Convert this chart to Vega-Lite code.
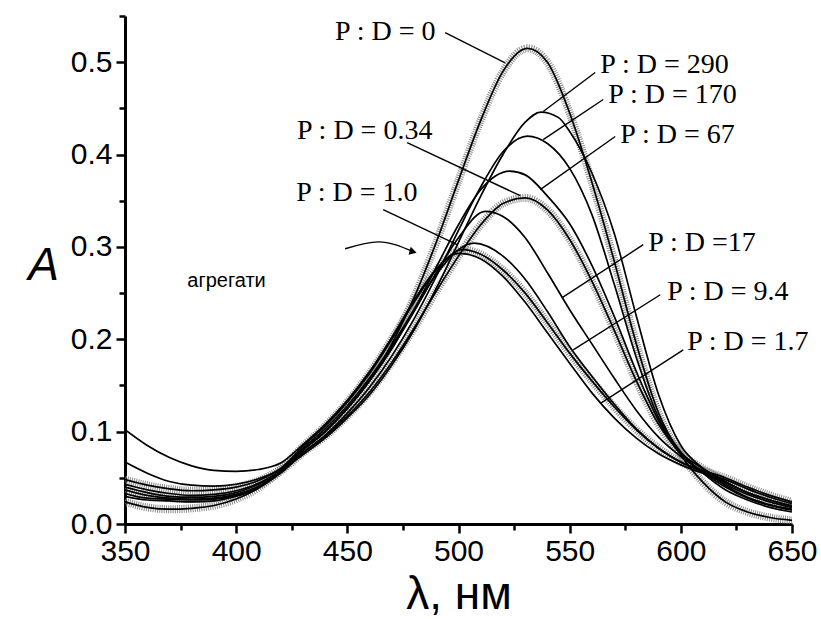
{
  "$schema": "https://vega.github.io/schema/vega-lite/v6.json",
  "width": 667,
  "height": 508,
  "autosize": {"type": "none"},
  "padding": {"left": 125, "top": 16, "right": 29, "bottom": 95},
  "background": "white",
  "config": {"view": {"stroke": null}},
  "datasets": {
    "spectra": [
      {"s":"0","x":350,"y":0.024},{"s":"0","x":360,"y":0.018},{"s":"0","x":370,"y":0.016},{"s":"0","x":380,"y":0.017},{"s":"0","x":390,"y":0.020},{"s":"0","x":400,"y":0.027},{"s":"0","x":410,"y":0.039},{"s":"0","x":420,"y":0.058},{"s":"0","x":430,"y":0.080},{"s":"0","x":440,"y":0.100},{"s":"0","x":450,"y":0.125},{"s":"0","x":460,"y":0.155},{"s":"0","x":470,"y":0.195},{"s":"0","x":480,"y":0.245},{"s":"0","x":490,"y":0.305},{"s":"0","x":500,"y":0.372},{"s":"0","x":510,"y":0.437},{"s":"0","x":520,"y":0.490},{"s":"0","x":531,"y":0.515},{"s":"0","x":540,"y":0.500},{"s":"0","x":550,"y":0.445},{"s":"0","x":560,"y":0.370},{"s":"0","x":570,"y":0.285},{"s":"0","x":580,"y":0.195},{"s":"0","x":590,"y":0.120},{"s":"0","x":600,"y":0.075},{"s":"0","x":610,"y":0.045},{"s":"0","x":620,"y":0.024},{"s":"0","x":630,"y":0.013},{"s":"0","x":640,"y":0.007},{"s":"0","x":650,"y":0.004},
      {"s":"290","x":350,"y":0.040},{"s":"290","x":360,"y":0.034},{"s":"290","x":370,"y":0.030},{"s":"290","x":380,"y":0.029},{"s":"290","x":390,"y":0.030},{"s":"290","x":400,"y":0.034},{"s":"290","x":410,"y":0.043},{"s":"290","x":420,"y":0.057},{"s":"290","x":430,"y":0.075},{"s":"290","x":440,"y":0.093},{"s":"290","x":450,"y":0.115},{"s":"290","x":460,"y":0.140},{"s":"290","x":470,"y":0.172},{"s":"290","x":480,"y":0.210},{"s":"290","x":490,"y":0.255},{"s":"290","x":500,"y":0.305},{"s":"290","x":510,"y":0.355},{"s":"290","x":520,"y":0.400},{"s":"290","x":530,"y":0.435},{"s":"290","x":537,"y":0.446},{"s":"290","x":545,"y":0.440},{"s":"290","x":550,"y":0.425},{"s":"290","x":560,"y":0.380},{"s":"290","x":570,"y":0.315},{"s":"290","x":580,"y":0.225},{"s":"290","x":590,"y":0.140},{"s":"290","x":600,"y":0.085},{"s":"290","x":610,"y":0.060},{"s":"290","x":620,"y":0.042},{"s":"290","x":630,"y":0.029},{"s":"290","x":640,"y":0.021},{"s":"290","x":650,"y":0.016},
      {"s":"170","x":350,"y":0.033},{"s":"170","x":360,"y":0.028},{"s":"170","x":370,"y":0.027},{"s":"170","x":380,"y":0.026},{"s":"170","x":390,"y":0.027},{"s":"170","x":400,"y":0.031},{"s":"170","x":410,"y":0.040},{"s":"170","x":420,"y":0.055},{"s":"170","x":430,"y":0.077},{"s":"170","x":440,"y":0.096},{"s":"170","x":450,"y":0.120},{"s":"170","x":460,"y":0.148},{"s":"170","x":470,"y":0.182},{"s":"170","x":480,"y":0.222},{"s":"170","x":490,"y":0.268},{"s":"170","x":500,"y":0.318},{"s":"170","x":510,"y":0.365},{"s":"170","x":520,"y":0.403},{"s":"170","x":531,"y":0.420},{"s":"170","x":540,"y":0.412},{"s":"170","x":550,"y":0.385},{"s":"170","x":560,"y":0.335},{"s":"170","x":570,"y":0.260},{"s":"170","x":580,"y":0.180},{"s":"170","x":590,"y":0.115},{"s":"170","x":600,"y":0.078},{"s":"170","x":610,"y":0.055},{"s":"170","x":620,"y":0.037},{"s":"170","x":630,"y":0.026},{"s":"170","x":640,"y":0.018},{"s":"170","x":650,"y":0.013},
      {"s":"67","x":350,"y":0.030},{"s":"67","x":360,"y":0.026},{"s":"67","x":370,"y":0.025},{"s":"67","x":380,"y":0.024},{"s":"67","x":390,"y":0.025},{"s":"67","x":400,"y":0.030},{"s":"67","x":410,"y":0.039},{"s":"67","x":420,"y":0.056},{"s":"67","x":430,"y":0.080},{"s":"67","x":440,"y":0.100},{"s":"67","x":450,"y":0.125},{"s":"67","x":460,"y":0.155},{"s":"67","x":470,"y":0.190},{"s":"67","x":480,"y":0.232},{"s":"67","x":490,"y":0.278},{"s":"67","x":500,"y":0.324},{"s":"67","x":510,"y":0.362},{"s":"67","x":523,"y":0.382},{"s":"67","x":530,"y":0.378},{"s":"67","x":540,"y":0.355},{"s":"67","x":550,"y":0.325},{"s":"67","x":560,"y":0.280},{"s":"67","x":570,"y":0.225},{"s":"67","x":580,"y":0.165},{"s":"67","x":590,"y":0.112},{"s":"67","x":600,"y":0.075},{"s":"67","x":610,"y":0.056},{"s":"67","x":620,"y":0.040},{"s":"67","x":630,"y":0.028},{"s":"67","x":640,"y":0.020},{"s":"67","x":650,"y":0.015},
      {"s":"0.34","x":350,"y":0.037},{"s":"0.34","x":360,"y":0.031},{"s":"0.34","x":370,"y":0.028},{"s":"0.34","x":380,"y":0.027},{"s":"0.34","x":390,"y":0.028},{"s":"0.34","x":400,"y":0.032},{"s":"0.34","x":410,"y":0.041},{"s":"0.34","x":420,"y":0.057},{"s":"0.34","x":430,"y":0.077},{"s":"0.34","x":440,"y":0.095},{"s":"0.34","x":450,"y":0.117},{"s":"0.34","x":460,"y":0.143},{"s":"0.34","x":470,"y":0.175},{"s":"0.34","x":480,"y":0.212},{"s":"0.34","x":490,"y":0.252},{"s":"0.34","x":500,"y":0.290},{"s":"0.34","x":510,"y":0.324},{"s":"0.34","x":520,"y":0.347},{"s":"0.34","x":530,"y":0.353},{"s":"0.34","x":540,"y":0.340},{"s":"0.34","x":550,"y":0.308},{"s":"0.34","x":560,"y":0.263},{"s":"0.34","x":570,"y":0.210},{"s":"0.34","x":580,"y":0.155},{"s":"0.34","x":590,"y":0.108},{"s":"0.34","x":600,"y":0.077},{"s":"0.34","x":610,"y":0.060},{"s":"0.34","x":620,"y":0.046},{"s":"0.34","x":630,"y":0.034},{"s":"0.34","x":640,"y":0.026},{"s":"0.34","x":650,"y":0.020},
      {"s":"17","x":350,"y":0.043},{"s":"17","x":360,"y":0.037},{"s":"17","x":370,"y":0.033},{"s":"17","x":380,"y":0.031},{"s":"17","x":390,"y":0.032},{"s":"17","x":400,"y":0.036},{"s":"17","x":410,"y":0.044},{"s":"17","x":420,"y":0.058},{"s":"17","x":430,"y":0.080},{"s":"17","x":440,"y":0.100},{"s":"17","x":450,"y":0.125},{"s":"17","x":460,"y":0.155},{"s":"17","x":470,"y":0.190},{"s":"17","x":480,"y":0.230},{"s":"17","x":490,"y":0.272},{"s":"17","x":500,"y":0.310},{"s":"17","x":512,"y":0.3385},{"s":"17","x":520,"y":0.333},{"s":"17","x":530,"y":0.310},{"s":"17","x":540,"y":0.272},{"s":"17","x":550,"y":0.232},{"s":"17","x":560,"y":0.195},{"s":"17","x":570,"y":0.158},{"s":"17","x":580,"y":0.123},{"s":"17","x":590,"y":0.094},{"s":"17","x":600,"y":0.073},{"s":"17","x":610,"y":0.057},{"s":"17","x":620,"y":0.043},{"s":"17","x":630,"y":0.032},{"s":"17","x":640,"y":0.024},{"s":"17","x":650,"y":0.018},
      {"s":"9.4","x":350,"y":0.067},{"s":"9.4","x":360,"y":0.055},{"s":"9.4","x":370,"y":0.046},{"s":"9.4","x":380,"y":0.042},{"s":"9.4","x":390,"y":0.041},{"s":"9.4","x":400,"y":0.043},{"s":"9.4","x":410,"y":0.049},{"s":"9.4","x":420,"y":0.060},{"s":"9.4","x":430,"y":0.082},{"s":"9.4","x":440,"y":0.103},{"s":"9.4","x":450,"y":0.128},{"s":"9.4","x":460,"y":0.158},{"s":"9.4","x":470,"y":0.193},{"s":"9.4","x":480,"y":0.232},{"s":"9.4","x":490,"y":0.270},{"s":"9.4","x":500,"y":0.297},{"s":"9.4","x":507,"y":0.304},{"s":"9.4","x":520,"y":0.290},{"s":"9.4","x":530,"y":0.265},{"s":"9.4","x":540,"y":0.230},{"s":"9.4","x":550,"y":0.192},{"s":"9.4","x":560,"y":0.160},{"s":"9.4","x":570,"y":0.130},{"s":"9.4","x":580,"y":0.103},{"s":"9.4","x":590,"y":0.082},{"s":"9.4","x":600,"y":0.067},{"s":"9.4","x":610,"y":0.056},{"s":"9.4","x":620,"y":0.045},{"s":"9.4","x":630,"y":0.034},{"s":"9.4","x":640,"y":0.026},{"s":"9.4","x":650,"y":0.019},
      {"s":"1.0","x":350,"y":0.048},{"s":"1.0","x":360,"y":0.042},{"s":"1.0","x":370,"y":0.038},{"s":"1.0","x":380,"y":0.036},{"s":"1.0","x":390,"y":0.037},{"s":"1.0","x":400,"y":0.040},{"s":"1.0","x":410,"y":0.047},{"s":"1.0","x":420,"y":0.060},{"s":"1.0","x":430,"y":0.084},{"s":"1.0","x":440,"y":0.106},{"s":"1.0","x":450,"y":0.132},{"s":"1.0","x":460,"y":0.163},{"s":"1.0","x":470,"y":0.200},{"s":"1.0","x":480,"y":0.240},{"s":"1.0","x":490,"y":0.275},{"s":"1.0","x":502,"y":0.297},{"s":"1.0","x":510,"y":0.292},{"s":"1.0","x":520,"y":0.275},{"s":"1.0","x":530,"y":0.250},{"s":"1.0","x":540,"y":0.218},{"s":"1.0","x":550,"y":0.185},{"s":"1.0","x":560,"y":0.155},{"s":"1.0","x":570,"y":0.127},{"s":"1.0","x":580,"y":0.102},{"s":"1.0","x":590,"y":0.082},{"s":"1.0","x":600,"y":0.067},{"s":"1.0","x":610,"y":0.058},{"s":"1.0","x":620,"y":0.050},{"s":"1.0","x":630,"y":0.040},{"s":"1.0","x":640,"y":0.031},{"s":"1.0","x":650,"y":0.024},
      {"s":"1.7","x":350,"y":0.102},{"s":"1.7","x":360,"y":0.085},{"s":"1.7","x":370,"y":0.072},{"s":"1.7","x":380,"y":0.063},{"s":"1.7","x":390,"y":0.058},{"s":"1.7","x":400,"y":0.057},{"s":"1.7","x":410,"y":0.059},{"s":"1.7","x":420,"y":0.066},{"s":"1.7","x":430,"y":0.086},{"s":"1.7","x":440,"y":0.108},{"s":"1.7","x":450,"y":0.134},{"s":"1.7","x":460,"y":0.165},{"s":"1.7","x":470,"y":0.202},{"s":"1.7","x":480,"y":0.242},{"s":"1.7","x":490,"y":0.276},{"s":"1.7","x":500,"y":0.293},{"s":"1.7","x":510,"y":0.287},{"s":"1.7","x":520,"y":0.268},{"s":"1.7","x":530,"y":0.240},{"s":"1.7","x":540,"y":0.207},{"s":"1.7","x":550,"y":0.174},{"s":"1.7","x":560,"y":0.142},{"s":"1.7","x":570,"y":0.115},{"s":"1.7","x":580,"y":0.093},{"s":"1.7","x":590,"y":0.076},{"s":"1.7","x":600,"y":0.064},{"s":"1.7","x":610,"y":0.055},{"s":"1.7","x":620,"y":0.048},{"s":"1.7","x":630,"y":0.038},{"s":"1.7","x":640,"y":0.029},{"s":"1.7","x":650,"y":0.022}
    ],
    "labels": [
      {"t":"P : D = 0","x":444.5,"y":0.533},
      {"t":"P : D = 290","x":563.8,"y":0.497},
      {"t":"P : D = 170","x":567.4,"y":0.464},
      {"t":"P : D = 67","x":572.8,"y":0.4216},
      {"t":"P : D = 0.34","x":427.4,"y":0.426},
      {"t":"P : D = 1.0","x":427,"y":0.3588},
      {"t":"P : D =17","x":585.4,"y":0.3046},
      {"t":"P : D = 9.4","x":593.9,"y":0.2515},
      {"t":"P : D = 1.7","x":602.9,"y":0.197}
    ],
    "leaders": [
      {"x":494,"y":0.532,"x2":521,"y2":0.4993},
      {"x":561.5,"y":0.4888,"x2":538.1,"y2":0.4466},
      {"x":565.1,"y":0.4596,"x2":538.1,"y2":0.4162},
      {"x":570.5,"y":0.4195,"x2":536.75,"y2":0.362},
      {"x":476.9,"y":0.413,"x2":527.75,"y2":0.3555},
      {"x":466.1,"y":0.3403,"x2":499.4,"y2":0.3024},
      {"x":583.1,"y":0.3024,"x2":546.65,"y2":0.245},
      {"x":590.75,"y":0.2482,"x2":551.6,"y2":0.1886},
      {"x":601.1,"y":0.1886,"x2":564.2,"y2":0.1312}
    ],
    "arrow": [
      {"o":1,"x":449,"y":0.298},
      {"o":2,"x":464,"y":0.3055},
      {"o":3,"x":479.6,"y":0.2948}
    ],
    "arrowhead": [{"x":479.6,"y":0.2948}],
    "note": [{"t":"агрегати","x":378,"y":0.2634}]
  },
  "layer": [
    {
      "data": {"name": "spectra"},
      "transform": [{"filter": "datum.s === '0' || datum.s === '0.34' || datum.s === '1.0'"}],
      "mark": {"type": "line", "interpolate": "monotone", "color": "#8a8a8a", "strokeWidth": 8, "strokeDash": [1, 1.2], "clip": true},
      "encoding": {
        "x": {"field": "x", "type": "quantitative", "scale": {"domain": [350, 650], "nice": false, "zero": false},
          "axis": {"values": [350,375,400,425,450,475,500,525,550,575,600,625,650],
            "labelExpr": "datum.value % 50 === 0 ? datum.label : ''",
            "title": "λ, нм", "titleFont": "Liberation Sans", "titleFontSize": 46, "titleFontWeight": "normal", "titlePadding": 6,
            "labelFont": "Liberation Sans", "labelFontSize": 30, "labelColor": "black", "labelPadding": 3,
            "domainColor": "black", "domainWidth": 3, "tickColor": "black", "tickWidth": 2.5,
            "tickSize": {"condition": {"test": "datum.value % 50 !== 0", "value": 6}, "value": 9},
            "grid": false, "labelFlush": false, "labelOverlap": false}},
        "y": {"field": "y", "type": "quantitative", "scale": {"domain": [0, 0.55], "nice": false},
          "axis": {"values": [0,0.05,0.1,0.15,0.2,0.25,0.3,0.35,0.4,0.45,0.5,0.55],
            "labelExpr": "round(datum.value*100) % 10 === 0 ? format(datum.value, '.1f') : ''",
            "title": "A", "titleFont": "Liberation Sans", "titleFontSize": 46, "titleFontStyle": "italic", "titleFontWeight": "normal",
            "titleAngle": 0, "titleX": -82, "titleY": 249, "titleAlign": "center", "titleBaseline": "middle",
            "labelFont": "Liberation Sans", "labelFontSize": 30, "labelColor": "black", "labelPadding": 4,
            "domainColor": "black", "domainWidth": 3, "tickColor": "black", "tickWidth": 2.5,
            "tickSize": {"condition": {"test": "round(datum.value*100) % 10 !== 0", "value": 6}, "value": 9},
            "grid": false, "labelFlush": false, "labelOverlap": false}},
        "detail": {"field": "s"}
      }
    },
    {
      "data": {"name": "spectra"},
      "mark": {"type": "line", "interpolate": "monotone", "color": "black", "strokeWidth": 1.7, "clip": true},
      "encoding": {
        "x": {"field": "x", "type": "quantitative"},
        "y": {"field": "y", "type": "quantitative"},
        "detail": {"field": "s"}
      }
    },
    {
      "data": {"name": "leaders"},
      "mark": {"type": "rule", "color": "black", "strokeWidth": 1.4},
      "encoding": {
        "x": {"field": "x", "type": "quantitative"},
        "y": {"field": "y", "type": "quantitative"},
        "x2": {"field": "x2"},
        "y2": {"field": "y2"}
      }
    },
    {
      "data": {"name": "labels"},
      "mark": {"type": "text", "font": "Liberation Serif", "fontSize": 28, "align": "left", "baseline": "middle", "color": "black"},
      "encoding": {
        "x": {"field": "x", "type": "quantitative"},
        "y": {"field": "y", "type": "quantitative"},
        "text": {"field": "t"}
      }
    },
    {
      "data": {"name": "arrow"},
      "mark": {"type": "line", "interpolate": "monotone", "color": "black", "strokeWidth": 1.4},
      "encoding": {
        "x": {"field": "x", "type": "quantitative"},
        "y": {"field": "y", "type": "quantitative"},
        "order": {"field": "o"}
      }
    },
    {
      "data": {"name": "arrowhead"},
      "mark": {"type": "point", "shape": "triangle-right", "filled": true, "color": "black", "size": 70, "angle": 15, "opacity": 1},
      "encoding": {
        "x": {"field": "x", "type": "quantitative"},
        "y": {"field": "y", "type": "quantitative"}
      }
    },
    {
      "data": {"name": "note"},
      "mark": {"type": "text", "font": "Liberation Sans", "fontSize": 20, "align": "left", "baseline": "middle", "color": "black"},
      "encoding": {
        "x": {"field": "x", "type": "quantitative"},
        "y": {"field": "y", "type": "quantitative"},
        "text": {"field": "t"}
      }
    }
  ]
}
